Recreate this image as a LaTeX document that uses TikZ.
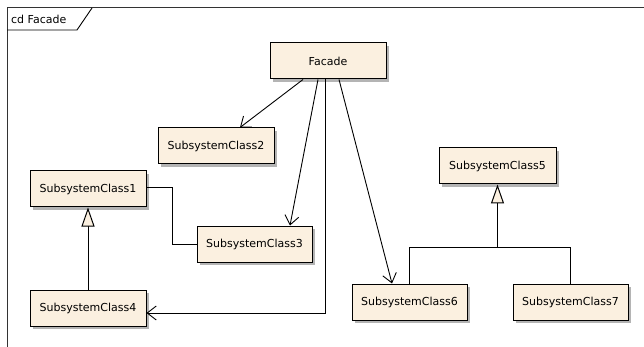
\documentclass[tikz,border=0pt]{standalone}
\usepackage{fontspec}
\setmainfont{DejaVu Sans}
\usetikzlibrary{arrows.meta,shadows,calc}
\definecolor{boxfill}{HTML}{FBF0E0}
\definecolor{shadowgray}{HTML}{B4B4B4}
\tikzset{
  cls/.style={draw=black, line width=1pt, fill=boxfill, minimum height=36pt,
    inner sep=0pt, font=\fontsize{11}{13}\selectfont,
    drop shadow={shadow xshift=3pt, shadow yshift=-3pt, fill=shadowgray, opacity=1}},
  assoc/.style={line width=0.9pt, -{Straight Barb[length=9pt,width=14pt,line width=0.9pt]}},
  gen/.style={line width=1pt, -{Triangle[open,length=19pt,width=13pt,fill=boxfill,line width=1pt]}},
  plain/.style={line width=1pt},
}
\begin{document}
\begin{tikzpicture}[x=1pt,y=-1pt]
\useasboundingbox (0,0) rectangle (644,347);
% frame
\draw[line width=1pt, black!80] (7,347) -- (7,8) -- (644,8);
\draw[line width=0.9pt] (7,30) -- (77,30) -- (92,8);
\node[anchor=west, font=\fontsize{11}{13}\selectfont, inner sep=0pt] (title) at (11,19) {cd Facade};
% classes
\node[cls, minimum width=116pt] (facade) at (328,61) {Facade};
\node[cls, minimum width=116pt] (sc2) at (216,146) {SubsystemClass2};
\node[cls, minimum width=116pt] (sc1) at (88,189) {SubsystemClass1};
\node[cls, minimum width=115pt] (sc3) at (254.5,244) {SubsystemClass3};
\node[cls, minimum width=116pt] (sc4) at (88,308) {SubsystemClass4};
\node[cls, minimum width=117pt] (sc5) at (497.5,166) {SubsystemClass5};
\node[cls, minimum width=115pt] (sc6) at (409.5,302) {SubsystemClass6};
\node[cls, minimum width=115pt] (sc7) at (570.5,302) {SubsystemClass7};
\coordinate (j) at (497.5,247);
% associations
\draw[assoc] ([xshift=-25pt]facade.south) -- ([xshift=24pt]sc2.north);
\draw[assoc] ([xshift=-10pt]facade.south) -- ([xshift=35.5pt]sc3.north);
\draw[assoc] ([xshift=-3pt]facade.south) |- ([yshift=-5pt]sc4.east);
\draw[assoc] ([xshift=11pt]facade.south) -- ([xshift=-17.5pt]sc6.north);
% plain link
\draw[plain] ([yshift=1pt]sc1.east) -- ++(26,0) |- (sc3.west);
% generalizations
\draw[gen] (sc4.north) -- (sc1.south);
\draw[plain] (sc6.north) -- (sc6.north |- j) -- (sc7.north |- j) -- (sc7.north);
\draw[gen] (j) -- (sc5.south);
\end{tikzpicture}
\end{document}
